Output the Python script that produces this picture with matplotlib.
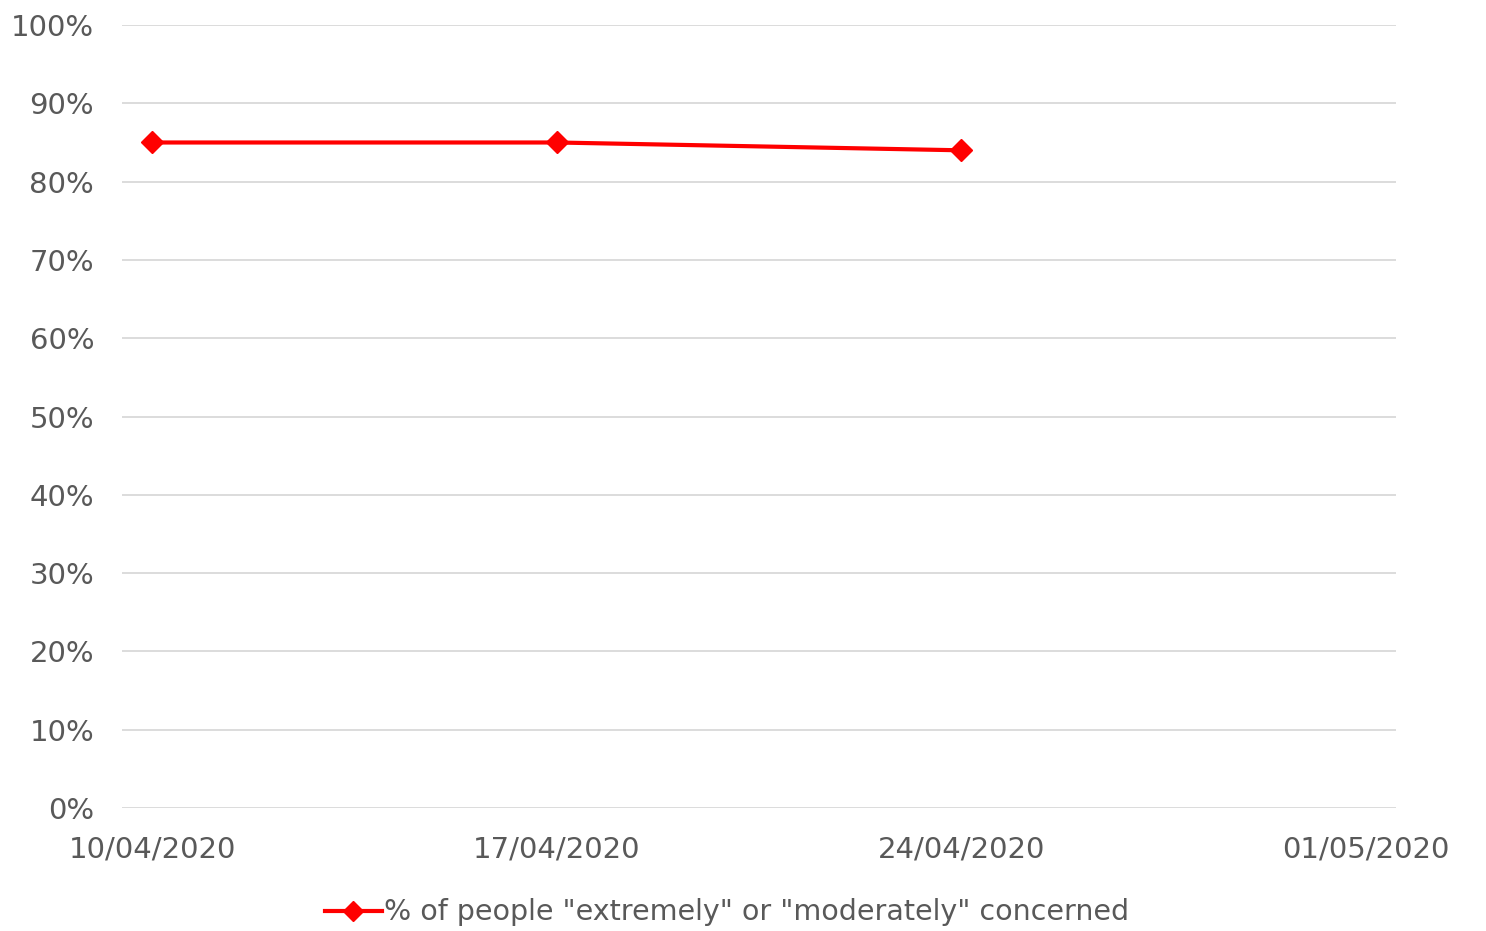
import numpy as np
import matplotlib.pyplot as plt
import matplotlib.dates as mdates
from matplotlib.ticker import FuncFormatter
import datetime as dt

dates = [dt.date(2020, 4, 10), dt.date(2020, 4, 17), dt.date(2020, 4, 24)]
concerned = [0.85, 0.85, 0.84]
tick_dates = [dt.date(2020, 4, 10), dt.date(2020, 4, 17), dt.date(2020, 4, 24), dt.date(2020, 5, 1)]
label = '% of people "extremely" or "moderately" concerned'

grey = "#595959"
plt.rcParams["font.family"] = ["DejaVu Sans"]

fig = plt.figure(figsize=(14.86, 9.31), dpi=100)
ax = fig.add_axes([0.0821, 0.1321, 0.8573, 0.841])

ax.plot(dates, concerned, color="#ff0000", lw=3, marker="D", ms=11, label=label)

start = mdates.date2num(tick_dates[0])
ax.set_xlim(start - 0.52, mdates.date2num(tick_dates[-1]) + 0.52)
ax.set_ylim(0, 1)
ax.set_yticks(np.arange(0, 1.01, 0.1))
ax.yaxis.set_major_formatter(FuncFormatter(lambda v, p: f"{v:.0%}"))
ax.set_xticks(tick_dates)
ax.xaxis.set_major_formatter(mdates.DateFormatter("%d/%m/%Y"))

ax.grid(axis="y", color="#d9d9d9", lw=1.3)
ax.set_axisbelow(True)
for s in ax.spines.values():
    s.set_visible(False)
ax.tick_params(length=0, labelsize=21, colors=grey)
ax.tick_params(axis="y", pad=20)
ax.tick_params(axis="x", pad=20)

leg = ax.legend(loc="upper center", bbox_to_anchor=(0.475, -0.101), frameon=False,
                fontsize=20.5, handlelength=2.0, handletextpad=0.1, markerscale=0.9,
                borderaxespad=0)
for t in leg.get_texts():
    t.set_color(grey)

fig.savefig("out.png", dpi=100)
